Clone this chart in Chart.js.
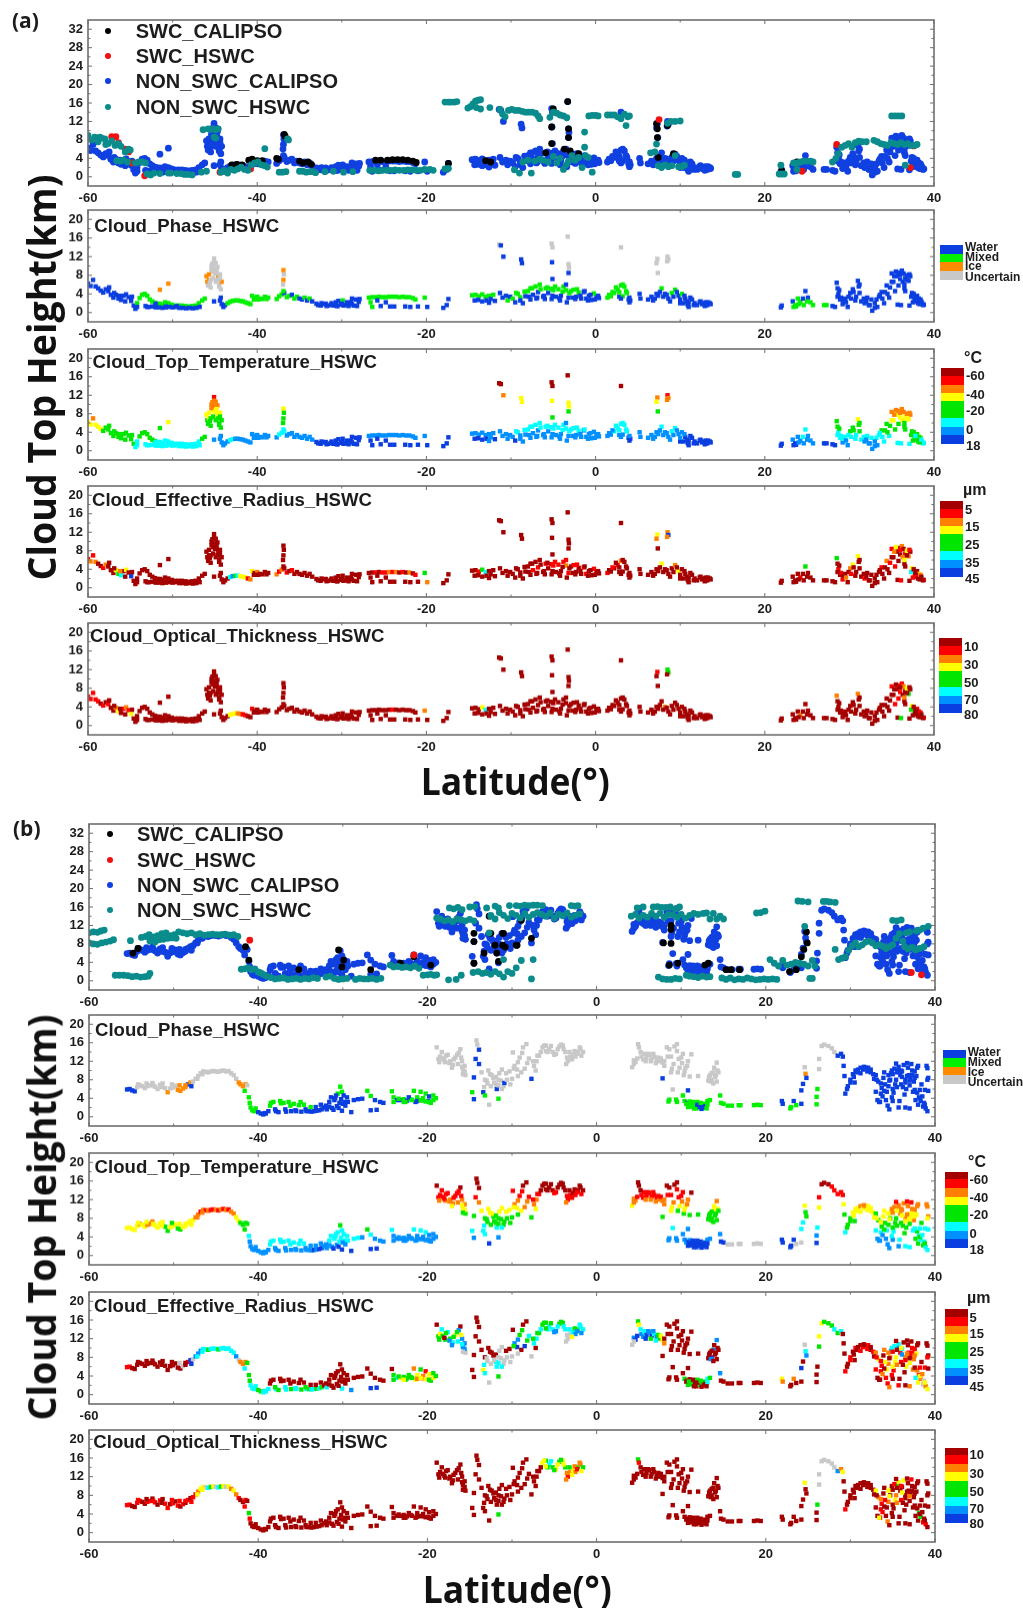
<!DOCTYPE html>
<html><head><meta charset="utf-8">
<style>
html,body{margin:0;padding:0;background:#fff}
#page{position:relative;width:1023px;height:1608px;overflow:hidden;background:#fff;font-family:"Liberation Sans",Arial,sans-serif;color:#1c1c1c}
canvas{position:absolute}
.t{position:absolute;white-space:nowrap;font-weight:bold;line-height:1}
</style>
<script src="https://cdn.jsdelivr.net/npm/chart.js@4/dist/chart.umd.min.js"></script>
</head><body><div id="page"></div>
<script>
const xTickValues=[-60,-40,-20,0,20,40];
const seriesNames=['SWC_CALIPSO','SWC_HSWC','NON_SWC_CALIPSO','NON_SWC_HSWC'];
const seriesColors=['#000000','#f01010','#1040e0','#0a8c8c'];
const panelTitles=['Cloud_Phase_HSWC','Cloud_Top_Temperature_HSWC','Cloud_Effective_Radius_HSWC','Cloud_Optical_Thickness_HSWC'];
const phaseNames=['Water','Mixed','Ice','Uncertain'];
const phaseColors=['#0a3ee0','#00f000','#ff8c00','#c8c8c8'];
const rainbow=['#a50000','#ff0000','#ff8000','#ffff00','#00e600','#00ffff','#0090ff','#0a3ee0','#c8c8c8'];
const tempLabels=['-60','-40','-20','0','18'];
const radiusLabels=['5','15','25','35','45'];
const thickLabels=['10','30','50','70','80'];

/* ---------- Figure (a): HSWC / CALIPSO cloud tops, ten points per row ---------- */
const aLat=[
-60,-59.7,-59.4,-59.1,-58.8,-58.5,-58.2,-57.9,-57.6,-57.3,
-57,-56.7,-56.4,-56.1,-55.8,-55.5,-55.2,-54.9,-54.6,-54.4,
-54.2,-53.9,-53.6,-53.3,-53,-52.7,-52.4,-52.1,-51.8,-51.5,
-51.2,-50.9,-50.5,-50.1,-49.7,-49.3,-48.9,-48.5,-48.1,-47.7,
-47.3,-46.9,-46.5,-53.2,-52.8,-52.4,-52,-51.6,-51.2,-50.8,
-50.4,-50,-49.6,-49.2,-48.8,-48.4,-48,-47.6,-47.2,-46.8,
-51.5,-50.5,-46.2,-46,-45.9,-45.8,-45.7,-45.5,-45.3,-45.1,
-45,-44.9,-44.8,-44.7,-44.6,-44.5,-44.4,-44.3,-44.2,-45.2,
-45.1,-44.7,-44.5,-45.4,-45.6,-44.3,-44.4,-44.2,-44,-43.8,
-43.5,-43.2,-42.9,-42.6,-42.3,-42,-41.7,-41.4,-41.1,-40.8,
-40.6,-40.3,-40,-39.7,-39.4,-39.1,-38.9,-38.7,-40.4,-39.9,
-37.7,-37.4,-37.1,-36.8,-36.5,-36.2,-35.9,-35.6,-35.3,-35,
-36.9,-36.85,-36.9,-36.95,-36.9,-34.7,-34.4,-34.1,-33.8,-33.5,
-32.8,-32.5,-32.2,-31.9,-31.6,-31.3,-31,-30.7,-30.4,-30.1,
-29.8,-29.5,-29.2,-28.9,-28.6,-28.3,-28,-30.5,-29.9,-28.8,
-26.8,-26.4,-26,-25.6,-25.2,-24.8,-24.4,-24,-23.6,-23.2,
-22.8,-22.4,-22,-21.6,-21.3,-20.2,-26.6,-26.4,-25.8,-25.4,
-24.8,-24.3,-23.8,-22.5,-21.9,-21,-19.9,-18,-17.6,-17.4,
-14.6,-14.2,-13.8,-13.4,-13,-12.6,-14.3,-13.9,-13.4,-12.9,
-12.6,-12.4,-12.1,-11.9,-11.3,-11,-11.4,-11.2,-10.9,-10.6,
-10.4,-10.1,-9.8,-9.5,-9.2,-8.9,-8.6,-8.8,-8.7,-8.3,
-8,-7.7,-7.4,-7.1,-6.8,-6.5,-6.2,-5.9,-5.6,-5.3,
-5,-4.7,-4.4,-4.1,-3.8,-3.5,-3.2,-2.9,-2.6,-2.3,
-2,-1.7,-1.4,-1.1,-0.8,-0.5,-0.2,0.1,0.4,-7.7,
-6.9,-6,-5.1,-4.2,-3.4,-2.4,-5.2,-5.1,-5.15,-5.1,
-3.3,-3.2,-3.15,-3.2,1.4,1.8,2.2,2.6,3,3.4,
3.7,3,2.8,3.2,3.9,4,4.1,3,5.2,5.3,
6.2,6.6,7,7.4,7.8,8.2,8.6,9,9.4,9.8,
10.2,10.6,11,11.4,10.4,10.9,7.3,7.2,7.35,8.5,
8.6,8.45,12.3,12.6,12.9,13.2,13.5,13,11.7,10,
21.9,22,23.3,23.6,23.9,24.2,24.5,24.8,25.1,25.4,
23.4,23.7,24,24.6,25,25.7,27,27.3,28,28.3,
28.5,28.6,28.7,28.9,29.2,29.5,29.8,30.1,30.4,30.7,
31,31.1,31.2,31.4,31.8,32.1,32.4,32.7,33,33.2,
33.5,33.8,34.1,34.4,34.7,35,35.2,35.4,35.6,35.8,
36,36.2,36.4,36.6,36.8,37,35.7,36.1,36.6,37.2,
37.4,37.7,38,38.3,38.6,38.8,37.8,38.2,37.1,36.5,
-45.7,-45.5,-45.2,-45,-44.8,-44.6,-44.4,-45.4,-45.1,-44.9,
-9.4,-8.9,-8.4,-7.9,-7.5,-7,-6.6,-6.1,-5.7,-5.2,
-4.8,-4.3,-3.9,-3.5,-3.1,-2.7,-2.2,-1.8,-1.3,-0.9,
-0.6,-0.1,0.3,1.6,2,2.4,2.8,3.2,3.6,4,
6.8,7.2,7.6,8,8.4,8.8,9.2,9.6,10,10.5,
10.8,11.2,11.6,11,12,12.4,12.7,13,13.3,13.6,
28.8,29,29.3,29.6,29.9,30.2,30.5,30.8,31.2,28.6,
31.7,32,32.3,32.6,33,33.3,33.6,33.9,34.2,34.5,
34.8,35,35.3,35.5,35.8,36,36.3,36.5,36.8,37.1,
37.3,37.6,37.9,38.1,38.4,38.7,37.5,37.8,38.3,38.5,
-57.5,-56.9,-56.2,-55.6,-54.8,-54.2,-53,-52,-50.8,-49.5,
-32.4,-31.8,-31.2,-30.6,-30,-29.4,-28.8,-28.2,-33,-27.9];
const aTop=[
6.2,5.7,7,5.6,5.2,4.7,4.3,5,4.6,3.8,
3.2,3.8,3,2.7,3.6,3.9,3.3,2.5,1.5,0.8,
2,3.1,3.8,4,3.6,2.8,2.4,2.1,1.9,1.9,
1.7,2.2,2,1.7,1.5,1.5,1.5,1.4,1.3,1.4,
1.5,2,2.6,1.4,1.2,1.3,1.1,1.1,1,1.3,
1.2,1.1,1.2,1,1,0.9,1,0.9,1,1.2,
4.9,6.2,3,7.8,6.6,5.8,7,5.4,10.5,11.6,
9.6,10.6,8.4,9.8,7.6,6,8.2,5,6.6,8.8,
2.4,7,5.6,9.2,6.4,3.2,2.6,1.8,1.2,1.6,
2,2.3,2.5,2.6,2.6,2.5,2.4,2.2,2,1.8,
3.6,3.2,3.4,3,2.9,3.4,2.9,3.2,2.8,2.8,
2.9,3.5,3.9,4.2,3.3,3.6,3.8,3,3.4,3,
9.1,8.2,7,6,4.6,2.8,3.2,2.6,3,2.4,
1.6,1.5,1.8,1.9,1.5,1.7,1.5,2.2,2.5,1.7,
1.5,1.6,1.4,2.2,1.5,2.8,2.3,1.4,2.6,3,
3.2,3.3,3.3,3.4,3.3,3.3,3.4,3.4,3.4,3.3,
3.4,3.3,3.3,3.1,2.8,3.2,2.2,1.2,2.6,1.4,
2.2,1.3,1.3,1.3,1.2,1.3,1.2,1,1.6,2.9,
3.7,3.8,3.5,3.9,3.4,3.6,2.6,2.7,2.4,2.6,
2.1,2.9,3.8,2.5,4.2,3.2,14.6,14.4,12,3.6,
2.6,3.4,3,2.2,4,3.3,2,11.4,10.6,3.5,
4.6,5.2,3.8,5.6,4.4,5,3.4,5.2,4.2,5.1,
4.8,3.4,5,3.6,5.6,4.8,3.2,4.6,4.9,3.4,
4.3,3,4.4,3,3.6,2.7,4.1,3.2,3.1,2.8,
3.2,2.9,3.6,2.6,2.2,2.9,14.8,14,10.8,7.2,
16.3,10.4,9.6,8.5,3.2,3.5,4.2,4.9,5.8,5.6,
4.2,14,3.4,3.5,2.8,2.2,2.6,3,4,3,
2.8,3.4,3,3.6,5.2,4,3,4.2,4.9,3.6,
4,3,2.2,2.8,2,1.6,11.5,10.6,8.5,12,
11.4,11,2.2,1.8,1.4,1.6,2,2.2,2,2,
1.1,1.5,2.4,1.6,3,2.2,3,4.6,3.2,2.2,
1.2,1.3,1.8,1.6,2.4,1.6,1.6,1.6,1.4,1.2,
6.4,5.2,4,2.8,1.8,3,1.2,4.2,5,2.6,
6.8,5.6,4.2,2.4,2,3.2,1.6,0.4,1,2.8,
3.4,4.4,2,5.8,3.2,8.4,6.6,4.6,7.8,8.6,
7.2,9,8.4,7.4,8,6.8,1.7,1.6,4.6,7.8,
4.2,3,3.6,2.4,2,1.7,2.4,3,1.5,5.2,
8.2,7,7.4,8.4,9,7,7.4,10,10.8,6.6,
4.2,2.6,4.5,3.4,5.2,3,6,3.6,5.4,2.9,
5.6,3.1,4.5,6,4.2,3.2,5,3.6,4.6,2.6,
3.8,2.8,3.6,3.8,4.4,5.4,4.4,6,4.6,3.2,
2.6,4,4.4,3.4,3.8,2.4,3.4,4.4,2.8,3.6,
2.4,3.2,1.6,1.2,1.6,2.4,2,1.6,2.2,1.8,
4.8,3.2,2.6,2.2,3.4,3,4.4,3.4,6,3.4,
3,2.4,1.6,2.8,2,1.2,3.8,3,4.4,4,
5.4,6.6,7.8,8.8,5.8,8.2,6.6,6,7,8.2,
3.4,4,2.8,2,2.8,1.6,2.2,3.2,1.8,2.4,
5.4,4.2,3.6,2.4,3.4,1.2,1.2,1.9,1.1,1.4,
2,1.4,2,1.4,1.9,2.2,1.8,1.4,1.9,2.9];
const aPhase=`0000000000 0000000000 1111111111 1111111111 1110000000 0000000000 2212232333 3333233323 0333300000 1111111111
1111111111 1110110110 2323101010 0000000000 0000000010 1111111111 1111111100 0000000000 1111110000 0010003000
1010110000 1101010101 1010110110 1000001000 0000003300 3330111111 1301000000 0000100110 1000003333 3300000000
0001110001 1111111100 0000000000 0000000000 0000000000 0000000000 0000000000
2333333333 1010101010 1010101000 0001111110 0000000000 0000000000 0000000000 0000000000 0000000000 0000000000 0000000000 0000000000`;
const aTemp=`3323334444 4444444445 5444444455 5555555555 5545555555 5555555555 4343443421 2232343443 6342466666 6556666666
6666666666 6555666666 3444566666 7777777777 7777777777 6666666666 6666667777 7777777777 6666667777 6667660026
6667566336 5565656565 5656556556 5666666666 6666660034 0334665555 5066777666 6666566556 6777772341 2277777777
7767665566 7766667777 4455656445 3445656665 5454523432 3223235542 4444554454
3443344224 5656565656 5656565656 6666655556 6666666666 7777777777 4556554545 5665665544 4322423432 4444454545 4444455555 7777777777`;
const aRadius=`1212001200 0345030700 0000000000 0000000000 0000000000 0000000000 0000000000 0000000000 0000000000 0564533312
3020000000 2120101000 0000000000 0000000000 0000000000 0010112120 1020140000 0000002000 0014500000 0000000000
0000000000 0010100101 1010121010 0011001000 0000000000 0000100120 0000000000 0000300023 0000003202 7200000000
0000010400 0000000000 4010100230 3000100000 0102010100 0201320100 3201510300
0000000000 0000000000 1001001000 0000100000 0000000000 0000000000 0102010000 0000000000 1023012301 5010201000 0020000000 0000000000`;
const aThick=`1111101010 0230121300 0000000000 0000000000 0000000000 0000000000 0000000000 0000000000 0000000000 0333221100
1000000000 0000000000 0000000000 0000000000 0000000000 0000000100 0000020000 0000000000 0003500000 0000000000
0000000000 0000000000 0000000000 0000000000 0000000000 0000000000 0000000000 0000020000 0000001004 4000000000
0000020000 0000000000 2000000000 2000000000 0000010101 1120340400 3410510000
0000000000 0000000000 0000000000 0000000000 0000000000 0000000000 0000000000 0000000000 0000100200 4000100000 0000000000 0000000000`;
const aBlackLat=[-36.8,-36.7,-37.7,-37.5,-35,-34.6,-34,-33.6,-41,-40.6,-40,-39.4,-43,-42.4,-41.8,-26,-25.4,-24.6,-24,-23.4,-22.8,-22.2,-21.6,-21.2,-17.4,-13,-12.4,-5.9,-5.2,-5.2,-5,-3.3,-3.2,-3.2,-3.7,7.2,7.3,7.3,8.5,7.4,9.2,22,23.8,-3,-2];
const aBlackTop=[9.2,8.8,4,3.8,3.4,3,3.2,2.7,3.6,3.8,3.5,3.5,2.6,2.7,2.6,3.6,3.6,3.6,3.7,3.7,3.7,3.6,3.4,3.1,2.9,3.5,3.2,5.2,7.2,10.8,14.7,16.3,8.5,10.4,6,11.5,10.4,8.5,11.1,4.2,5,1.3,3.2,5.6,5];
const aRedLat=[-57.2,-56.7,-55.6,-55.2,-54.8,-53.3,-44.4,-40.8,7.5,24.4,28.5,37.6,37.2,-56.4];
const aRedTop=[8.7,8.7,6,5.4,3,0.2,1,1.7,12.4,1.2,7,6.7,2,7.4];
const aTealLat=[
-60,-59.6,-59.2,-58.8,-58.4,-58,-57.6,-57.2,-56.8,-56.4,
-58.6,-57.9,-56.1,-55.6,-55.2,-55,-56.6,-56.2,-55.8,-55.3,
-54.4,-54,-53.6,-53.2,-53,-52.6,-52.2,-51.5,-50.5,-50.2,
-49.5,-49,-48.6,-48.2,-47.7,-46.6,-46,-45.5,-45.2,-44.9,
-46.4,-45.8,-44.6,-44.9,-45.1,-44.3,-43.9,-43.5,-43.1,-42.7,
-42.3,-41.9,-41.5,-41.1,-40.7,-40.3,-39.9,-39.5,-39.1,-38.8,
-39.1,-37.4,-37,-36.6,-36.4,-36.3,-35,-34.6,-34.2,-33.8,
-33.4,-33.1,-32,-31,-29.8,-28.7,
-26.7,-26.2,-25.7,-25.2,-24.7,-24.2,-23.7,-23.2,-22.7,-22.2,
-21.7,-21.2,-20.7,-20.2,-19.6,-19.2,-17.8,-17.4,-17.8,-17.4,
-17.1,-16.7,-16.4,-15.1,-14.8,-14.5,-14.2,-13.9,-13.6,-14.1,
-13.6,-12.5,-11.3,-11,-10.7,-10.3,-9.9,-9.5,-9.1,-8.7,
-8.3,-7.9,-7.5,-7.1,-6.8,-6.6,-5.4,-5,-4.6,-4.2,
-3.8,-3.4,-0.8,-0.4,0,0.3,1.4,1.8,2.2,2.6,
3,3.4,3.8,4,3.6,
-9.6,-9,-8.6,-8,-7.6,-7.2,-6.6,-6.2,-5.6,-5,
-4.6,-4.2,-3.8,-3.5,-3.2,-2.8,-2.4,-2,-1.6,-1.2,
-1.3,-1.3,-0.9,-0.4,6.5,7,7.4,7.8,8.2,8.6,
7.2,9,9.4,9.8,10.2,10.5,8.5,8.9,9.4,10,
16.5,16.8,21.7,22,22.3,21.9,23.4,23.8,24.2,24.6,
25,25.4,25.7,23.8,28,28.4,28.7,29.1,29.5,29.9,
30.3,30.7,31.1,31.5,32,32.9,33.3,33.7,34.1,34.5,
34.9,35.3,35.7,36.1,36.5,36.9,37.3,37.7,38,35,
35.4,35.8,36.2,36.6];
const aTealTop=[
9,8,8.6,7.6,8.4,8.2,7.2,7.8,6.8,7.2,
8.6,7,6.6,5.4,6,5.8,3.5,3.4,3.6,3.2,
3,3.2,3.2,3,0.6,0.4,0.8,0.7,0.8,0.8,
0.7,0.7,0.5,0.5,0.4,1,1.2,10.3,10.4,10.2,
10.2,10.4,10.4,8.4,8.6,1,1.4,0.8,1.6,1.4,
1.7,2.1,1.6,1.4,2.6,3,3.2,2.6,2.4,2.1,
6.1,1,1,1.1,8.2,8,1.2,1.2,1,1.1,
1.1,0.9,1.1,1.2,1,1.1,
1.4,1.4,1.3,1.4,1.4,1.4,1.5,1.4,1.4,1.5,
1.5,1.4,1.4,1.6,1.6,1.4,1.7,1.8,16.2,16.2,
16.2,16.2,16.3,14.9,15.2,15.8,16.4,16.6,16.7,15,
14.7,15,14.6,13.6,13,14.4,14.6,14.4,14.4,14.2,
14,14,14,13.8,13.2,12.6,12.9,14,13.8,13.4,
13.2,12.8,13.2,13.3,13.3,13.2,13.4,13.4,13.4,13,
12.6,13.6,13,13.2,11.1,
1.5,0.8,3.2,3.6,0.8,3.4,3.8,3.6,3.2,4.4,
3,4,1.6,2.6,3.4,4.6,3.6,4.2,2,4.6,
9.7,6.4,4.2,1,5.2,5.4,2.4,2,2.6,2.2,
7.1,2.4,4.6,2.2,2.2,2.5,11.6,12,12,12.1,
0.5,0.5,0.6,0.6,0.6,2.5,3,3,3.2,3.4,
3.4,3.4,3.2,1.6,3.2,4,5,6.4,6.8,7.2,
6.4,7.4,7.7,7.6,7.6,7.9,7.6,7.2,7,6.8,
7.4,7.2,7,7.4,7,7.2,6.8,6.8,7,13.2,
13.2,13.2,13.2,2.5];

/* ---------- Figure (b) ---------- */
const bLat=[
-55.5,-55.2,-54.9,-54.6,-54.3,-54,-53.7,-53.4,-53.1,-52.8,
-52.5,-52.2,-51.9,-51.6,-51.3,-51,-50.7,-50.4,-50.1,-49.8,
-49.5,-49.2,-48.9,-48.6,-48.3,-48,-47.7,-47.4,-47.1,-46.8,
-46.5,-46.2,-45.9,-45.6,-45.3,-45,-44.7,-44.4,-44.1,-43.8,
-43.5,-43.2,-42.9,-42.6,-42.3,-42.1,-41.8,-41.5,-41.3,-41.6,
-41.1,-41,-40.9,-40.7,-40.5,-40.3,-40,-39.7,-39.4,-39.1,
-38.8,-38.5,-38.2,-37.9,-37.6,-37.3,-37,-36.7,-36.4,-36.1,
-35.8,-35.5,-35.2,-34.9,-34.6,-34.3,-34,-33.7,-33.4,-33.1,
-32.8,-32.5,-32.2,-31.9,-31.6,-31.3,-31,-30.7,-30.4,-30.1,
-31.6,-30.9,-30.6,-30.3,-30.1,-29.8,-29.5,-29.4,-29,-29.9,
-28.7,-28.2,-27.7,-27.1,-26.7,-26.7,-26,-26.2,-25.6,-25.2,
-24.2,-24,-23.6,-23.2,-22.8,-22.4,-22,-21.6,-21.2,-20.8,
-20.5,-20.2,-19.9,-19.6,-19.3,-19,-21.4,-20.6,-19.8,-22.6,
-18.9,-18.7,-18.5,-18.2,-17.9,-17.6,-17.3,-17,-16.7,-16.4,
-16.1,-15.9,-15.8,-15.6,-15.9,-15.5,-16.3,-18,-14.2,-14.1,
-13.9,-14.3,-13.9,-14.5,-14.7,-14.5,-13.4,-13.2,-11.8,-11.6,
-12.7,-13.6,-13.2,-12.9,-12.5,-12.2,-11.9,-11.6,-11.3,-11,
-13.3,-12.8,-12.4,-11.9,-11.5,-11.2,-10.9,-10.6,-10.3,-10,
-9.9,-9.7,-9.4,-9.1,-8.7,-8.3,-8.9,-9.3,-8.5,-8.2,
-7.7,-7.4,-7.1,-6.8,-6.4,-6,-5.6,-5.2,-4.8,-4.4,
-4,-3.7,-3.4,-3.1,-2.8,-2.5,-2.2,-1.9,-1.6,-7.2,
4.2,4.4,4.6,4.9,5,5.3,5.6,5.9,6.2,6.5,
6.8,7.1,7.4,7.8,8,8.3,8.6,8.9,9.2,9.5,
9.7,10,10.2,10.5,10.7,11,11.2,8.8,9.6,10.3,
7.8,9,12,13.2,13.4,13.6,13.8,14,14.2,14.3,
8.5,8.6,9.4,10.2,10.4,10.7,10.8,11,11.3,11.6,
11.9,12.2,12.5,12.8,13.1,13.4,10.8,11.8,12.2,12.7,
14.6,14.7,15,15.5,16,16.8,17,18.6,19,19.4,
21.9,22,23,22.9,23.3,23.6,24.2,24.2,24.4,24.6,
24.7,24.8,26,26,26.1,26.3,26.3,26.6,26.9,27.4,
27.8,28.1,28.5,28.9,29.1,29.2,29.3,29.4,29.7,30,
30.3,30.6,30.9,31.2,31.5,31.8,32.1,32.4,32.7,30.5,
33,33.3,33.6,33.9,34.2,34.5,34.8,35.1,35.4,35.7,
36,36.3,36.6,36.9,37.2,37.5,37.8,38.1,33.2,33.8,
34.1,34.4,34.7,35,35.3,35.6,35.9,36.2,36.5,36.8,
37.1,37.4,37.7,38,38.3,38.6,38.9,39.1,39.2,38.4,
39.1,39,38.8,37,36.5,35.7,34.6,33.5,34.9,35.4,
36.1,36.7,37.3,37.9,38.2,38.7,33,39.2,35,37.6,
-39.2,-38.6,-38,-37.4,-36.8,-36.2,-35.6,-35,-34.4,-33.8,
-33.2,-32.6,-32,-31.4,-30.8,-30.2,-31.1,-30.5,-29.7,-30,
-54.2,-53.2,-52.4,-51.4,-50.2,-49.3,-48.6,-47.9,-47.2,-46.6,
-18.3,-17.8,-17.4,-16.9,-16.5,-16,-15.6,-18.6,-17.1,-15.8,
-13,-12.6,-12.1,-11.6,-11.2,-10.7,-10.2,-9.8,-9.3,-8.8,
-8,-7.5,-7,-6.6,-6.2,-5.8,-5.4,-5,-4.6,-4.2,
-3.9,-3.5,-3.2,-2.9,-2.6,-2.3,-2,-1.8,-6,-3.6,
4.4,4.8,5.2,5.5,5.8,6.1,6.4,6.7,7,7.3,
7.6,8,8.4,8.8,9.1,9.5,9.8,10.1,10.4,10.8,
13.3,13.6,13.9,14.1,14.4,13.5,13.8,14.2,9.5,10.6,
11.1,11.5,11.9,12.3,12.7,13.1,10.9,11.4,12.4,13,
29.6,30,30.4,30.8,31.2,31.6,32,32.4,32.8,33.1,
33.4,33.7,34,34.3,34.6,34.9,35.2,35.5,35.8,36.1,
36.4,36.7,37,37.3,37.6,37.9,38.2,38.5,38.8,39.1,
33.6,34,34.5,35,35.5,36,36.5,37,37.6,38,
-24,-23.4,-22.8,-22.2,-21.8,-21.2,-20.8,-20.2,-19.8,-19.3];
const bTop=[
5.9,6,5.7,5.5,6.4,6.8,6.6,6.2,6.6,6.8,
7.3,6.5,6,6.9,7.2,6.2,5.3,6.1,6.3,6.7,
5.8,5.6,6.1,6.4,7,7.4,7.6,8.2,8.8,9.4,
9.8,9.7,9.6,9.8,9.9,9.8,9.7,9.9,10,9.8,
9.9,9.4,9,8.2,7.4,7,6.6,7,6.8,5.6,
4.2,3,2,1.4,1.2,1.8,1,0.7,0.5,0.7,
1.2,3,3.2,1.2,1,2.9,3,1.1,3.2,1.2,
2.8,1.2,2.5,1.1,2.6,1.2,1.2,1.1,1.2,1.3,
1.4,1.6,2,1.6,3.2,1.9,3.6,2.3,3,1.3,
2.2,4,5,6.5,5.4,3.2,4.2,3.2,1,4.6,
3.6,3.8,3.9,5.6,4.5,1.4,1.5,3.6,3.2,3,
5.5,4.2,3.6,3.6,3.8,3.5,3.8,5.6,4.2,5.4,
4,5,3.4,3,3.6,4,3.2,3.5,4.4,3.2,
15,12.5,13,12.6,11.8,13.4,12,11.2,12.8,11.4,
14.6,12,10.2,11,10.8,9,13.8,12.2,16.5,15.6,
14.5,12.5,11.4,8.5,5.3,3.8,5.3,4.6,6,3.9,
2.6,9.6,8,7.2,6.6,8.4,8.6,6.8,7.8,6.6,
6.4,10,9,7,9.4,10.2,7.3,8,9.8,8.2,
13.9,11,10.2,12.8,15,15.7,9.6,8.8,10.4,11.6,
8.2,11,12,13.2,15,15.4,14.6,14,13.6,15.2,
15.4,14,12,13,13.4,13,14,14.6,14,10,
10.7,12.2,11.8,15.7,15,13,13.6,12.8,13.4,12.6,
13,12.4,12,11.7,11,15,14.6,10.4,15.2,15.7,
12.5,12.8,13.6,10.6,11,8.7,13.5,13,9.6,9,
8.3,5.9,8.8,7.8,9,8,9.6,8.6,11.7,10,
3.3,3.7,3.7,4.6,3.4,3,2.1,3.3,2.7,2.6,
3.2,2.5,2.2,2.8,3.4,3.6,5.7,1.8,2.1,2.3,
4.6,3,2.8,2.4,2.4,2.5,2.5,2.5,2.6,2.5,
3.4,2.8,2.1,1.8,3.4,2.5,2.8,5.7,7.1,10.7,
9.3,8.4,2.7,4.3,6,10.3,12.5,15.3,15.6,15.3,
14.8,14,13.2,13.6,13,11,8.8,5,6.6,8,
9.2,10,10.2,10.6,10.2,10.6,10.6,9.6,9.2,7.4,
9,7.6,5,8.4,3.6,6.6,9.4,5.2,8,10.8,
7,11.2,6,9,11.4,7.6,8.8,4.2,3.6,4.4,
7,2.4,8,3.4,7,10,9,6.4,8,10.6,
8.2,5.4,3.6,2.6,3.4,2.2,1.8,1.2,8.4,7,
10.5,11,5.8,1.8,2,2,1.6,3.2,10,11.5,
9.8,11.6,10,5.2,4,3,5.4,5.6,6,9.8,
0.8,2.4,1.6,3.4,1.6,2.4,1.4,3.2,1.6,2.1,
2.1,2.6,2.4,4.2,4.6,3.8,1.5,1.9,2.4,2.8,
7,7.2,6.8,6.4,7,6.8,6.8,6.6,8.2,9.2,
14,13.2,11.6,12.4,13.4,12.8,9.8,11.8,10.6,9.2,
7.8,9.2,7.4,8,6,9.4,7,10.4,11.8,13.8,
12.6,12,13.2,14,15.4,14,15.3,13.4,14.6,15.6,
14.6,12.8,14,12.4,14.2,13.6,15,13.2,14.2,11.4,
11.4,12.6,14,12.4,12,13.6,12,13.6,11.6,12.8,
12.6,12,13,9.6,11.4,14.2,10.6,11.6,9.8,12,
8.6,9.4,10.6,9,9.6,7.6,7.2,7.6,3.2,2.8,
2.2,1.8,2.6,3,2,2.6,2.8,3.2,1.7,1.8,
6,7.4,8.6,9.6,9.4,10.8,9.8,10.2,8.2,8,
3.2,6.2,9.6,5.4,7.8,4.2,10.4,6.4,3.4,8.6,
4.8,8.8,6.8,9,5.8,10.6,5.8,4.4,2.6,8,
7.2,5.6,9,9.2,9.6,10,7.4,7.8,8.4,11,
3.2,3.9,3.2,4.2,3.6,3.4,3.6,3.3,3.2,4.6];
const bPhase=`0000333333 3333332333 2222023333 3333333333 3333222231 1111110000 0110011010 1010100000 0000000000 0011100000
0001100000 1100101111 1101110101 3333333333 3333333333 0000100101 3333333333 3333330333 3333333333 0333333333
3333333333 3333333333 3333333333 3333333333 0333333333 1111101111 1001110100 1111111111 0011010003 2011133333
3300000000 0000000000 0000000000 0000000000 0000000000 0000000000 0000000000 0000000000
0101010101 0000000000 3333322033 3333333333 3333333333 3333333333 3333333333 3333333333 3333333333 3333333311 1101011101 0000000000 0000000000 0000000000 0000000000 1110101111`;
const bTemp=`3333323322 2333344333 4433333221 2121121212 1223344444 5666666666 6556655656 5656566676 7766565657 6554555575
5564577666 5666666565 6566666666 0111212212 0232341100 0124565556 7344444444 5334334434 1231003422 4221000010
0011010003 3220011111 1122200300 1113240144 4544443423 6666677677 7777666777 6778888888 7777788553 4476531000
1111134544 3332323334 4453643542 4243123566 4646422422 3544545524 2255566621 2124455542
6565656566 6665557766 3333433322 1121113234 4344534321 1110000100 0101010102 2101212121 1213213232 4434444466 7777777777 4433323333 6435352453 4243525543 3432323332 6666666666`;
const bRadius=`1100000000 0000000000 0080178666 5545554555 5556822245 4455554455 5005400504 0504054554 5405000005 0000000060
0000077000 0453444234 2134343234 0434454535 0666586000 0000003554 8008800588 5005888808 0674000874 8554445564
4588564550 8674365767 5643200000 0000000000 0000076060 0000404040 4004540040 6000000000 3200200708 5600043344
4545000101 0100101010 2310126135 1031023102 3120361020 1253282300 0012012050 5012381031
5040505040 0000000000 0000080755 5464436468 8088508464 5445454654 5853465648 8756764654 3000000000 0000060000 4004054000 0100101001 0123015206 0231001231 1021031020 4434423344`;
const bThick=`1100110011 0101011010 1010101123 3854385438 3232100101 4100000000 0000000000 0000000000 0000000000 0000000000
0000000000 0000000000 0000000000 0000000000 0000000000 0000000004 0000000000 0000000000 0000000000 0000345434
3412324240 0004100000 0000000000 0000000000 0000000000 0000000000 0000000000 0000000000 0000000003 0000488888
8862300100 0000000000 3210023023 1300100401 1200340000 0000411000 0000000000 0000000000
0000000000 0000000000 1010111133 0000000000 0000000000 0000345434 3243212332 0000000000 0000000000 0000000000 0000000000 0000000000 3100301203 0000000000 2030010200 0000000000`;
const bBlackLat=[-54.8,-54.2,-41.5,-41.1,-35.2,-30.5,-29.9,-30.1,-26.7,-23.2,-21.6,-19.6,-12.7,-14.5,-14.5,-14.5,-13.3,-12.5,-12,-11.8,-11,-10.8,-9.4,-11.6,-11.1,-11.1,-9.5,-7.7,-8.9,8.8,8.8,7.9,8.8,8.6,9.6,13.2,12.8,15.3,15.9,16.9,22.8,23.6,24.2,24.5,24.9,24.8];
const bBlackTop=[6,7,7.4,4.5,2.4,6.7,4.5,3,2.4,3.8,5.2,3.4,14,10.3,8.5,3.8,6,10.3,7.7,6,10.3,7.3,7.7,4.2,10.3,7.7,7.7,9.2,13.1,12,11.1,8.2,8.1,3.4,3.8,3.8,3.4,2.4,2.4,2.4,2,2.4,5.2,6.8,8.2,10.6];
const bRedLat=[-41,-21.6,37.2,38.4];
const bRedTop=[8.8,5.6,1.8,1.3];
const bTealLat=[
-60,-59.5,-59,-58.6,-58.2,-60,-59.5,-59,-58.5,-58,-57.5,-57.1,
-56.9,-56.4,-55.9,-55.4,-54.9,-54.4,-53.9,-53.4,-53,-52.8,-55.1,
-53.8,-53.3,-52.9,-52.4,-51.9,-51.4,-50.9,-50.4,-49.9,-49.4,
-48.9,-48.4,-47.9,-47.4,-46.9,-46.4,-45.9,-45.4,-44.9,-44.4,
-43.9,-43.4,-42.9,-42.4,-52.8,-52.2,-51.7,-51.2,-50.7,-50.2,-49.7,
-42,-41.6,-41.2,-40.8,-40.4,-40,-39.7,-39.4,-39,-38.5,
-38,-37.5,-37,-36.5,-36,-35.5,-35,-34.5,-34,-33.5,
-33,-32,-31.5,-31,-30.5,-30,-29.5,-28.5,-28,-27.5,
-27,-26.5,-26,-25.5,-24.4,-24,-23.5,-23,-22.5,-22,
-21.5,-21,-20.5,-20,-19.6,-19.2,-18.9,-17.5,-16.6,-16,
-18.9,-18.5,-18,-17.5,-17,-16.5,-16,-15.5,-15,-14.5,
-17.4,-16.9,-16.4,-15.9,-15,-14.4,-13,-12.5,-12,-11.6,
-10.3,-9.5,-9,-8.5,-8,-7.5,-7,-6.4,-3,-2.6,-2.2,
-12.5,-12,-11.5,-11,-10.5,-10,-9.5,-9,-8.5,-8,-7.5,-7,
-6.5,-6,-5.5,-5,-4.5,-4,-3.5,-3,-2.5,-2,
-14.6,-14,-13.5,-13,-12.5,-12,-11.5,-11,-10.5,-10,-9.5,-8.9,-7.7,-7.5,-12.7,-11,
4.1,4.6,5,5.5,6,6.5,7,7.5,8,8.5,9,9.5,10,10.5,11,11.5,12,12.6,
4.8,5.5,6.7,7.2,7.7,8.2,8.7,9.3,9.8,13,13.4,13.8,14.2,14.6,15,
7.3,7.8,8.3,8.8,9.3,9.8,10.6,11,11.5,12,12.5,13,13.4,
14.8,15.3,15.8,16.3,16.8,17.3,17.8,18.3,18.8,19.3,19.8,20.3,20.8,21.3,18.9,19.4,19.9,
20.5,21,21.5,22,22.5,23,23.5,24,24.5,25,25.5,25.8,23.8,24.3,25,24.6,25.2,25.5,
26.8,27.2,27.6,28.2,28.2,28.6,29,29.4,29.8,30.2,30.6,31,31.4,31.8,32.2,32.6,33,33.4,33.8,34.2,
34.6,35,35.4,35.8,36.2,36.6,37,37.4,37.8,38.2,38.6,39.2,35,35.5,36,36.4,36.8,37.2,37.7,38.2,38.7];
const bTealTop=[
10.4,10.6,10.5,10.8,11,8.2,8,7.9,8.2,8.4,8.6,8.9,
1.2,1.2,1.2,1.1,0.9,1,0.8,0.9,1,1.6,8.7,
9.4,9.6,10,9.5,9.8,10.2,10.4,9.8,10,10.6,
10.4,10.2,10.4,10,10.2,9.9,10,10.1,10,10,
10.1,9.9,10,9.6,8.6,8.4,8.9,9,9.2,9.3,9.2,
2.5,2.6,2.8,2.4,2.6,1.9,1.7,1.4,1,0.7,
0.4,0.5,0.6,0.3,0.4,0.5,0.3,0.5,0.4,0.7,
0.5,0.8,1,0.5,0.3,0.4,0.5,0.3,0.5,0.4,
0.4,0.5,0.3,0.5,3.4,3,3.1,2.9,3,2.8,
3.2,2.7,1.2,1.3,1.4,1.2,1.3,0.2,0.3,1.2,
13.6,13.4,13,13.2,12.8,13.4,13.2,13,13.3,13,
15.8,15.6,15.9,15.4,16,16.1,15.8,14.2,16.2,15.8,
16.3,16.3,16.2,16.4,16.3,16.4,16.4,16.3,16.3,16.2,16.3,
14,13.4,14.8,14.2,13.5,14.6,14.2,13.6,14.6,13.8,14.4,14.8,
14.4,14,14.7,13.6,14.4,14.1,14.7,13.8,14.2,14.5,
1.8,2,1.6,1.8,1.4,2,1.5,0.8,2,1.6,2.8,4.4,0.4,4.6,10.4,4.6,
14,14.4,13.6,14.2,13.8,14.6,14,14.6,13.8,14.4,14.3,13.8,14.4,13.6,14.2,14.6,14.4,14.6,
15.8,16,16,16.1,15.9,15.9,16,15.6,16,14.7,13.4,14.6,13.4,14,13.4,
0.8,0.4,0.3,0.3,0.5,0.4,1.2,1,0.9,0.7,1,0.8,0.9,
0.6,0.3,0.6,0.2,0.4,0.3,0.6,0.4,0.2,0.3,0.4,0.3,0.4,0.3,14.7,14.8,15.1,
4.6,3.8,3.2,4.4,3.4,3.6,4,3.8,3.6,3.2,4.4,3.2,17.3,17.2,17.1,11.8,0.5,0.5,
17.2,17.2,17.1,17,6.8,4.6,4.9,5.2,6.6,7.6,8.2,7.4,7.8,8.4,8.6,8.2,7.6,7.8,7.5,7,
7.4,7.8,9.2,10.2,8.6,10.4,10.6,7.2,10.8,11,11.4,11.8,13.1,13,13.2,7.4,6.9,7.2,6.7,7,7.4];

/* ---------- helpers (layout only) ---------- */
const page=document.getElementById('page');
const digits=s=>s.replace(/\s/g,'').split('').map(Number);
const xy=(lat,top)=>lat.map((x,i)=>({x,y:top[i]}));
function text(str,x,yc,opts={}){
  const d=document.createElement('div');d.className='t';d.textContent=str;
  d.style.left=x+'px';d.style.top=yc+'px';d.style.transform='translateY(-50%)';
  d.style.fontSize=(opts.size||13)+'px';
  if(opts.family)d.style.fontFamily=opts.family;
  page.appendChild(d);return d;
}
function fitted(str,cx,cy,size,targetLen,rot){
  const d=document.createElement('div');d.className='t';d.textContent=str;
  d.style.fontSize=size+'px';d.style.fontFamily='"Open Sans","Noto Sans",sans-serif';d.style.color='#111';
  page.appendChild(d);
  const w=d.getBoundingClientRect().width,h=d.getBoundingClientRect().height;
  d.style.left=(cx-w/2)+'px';d.style.top=(cy-h/2)+'px';
  d.style.transform=`rotate(${rot}deg) scaleX(${targetLen/w})`;
  return d;
}
const frame={id:'frame',afterDraw(c){
  const {ctx,chartArea:a,scales:{x,y}}=c;ctx.save();ctx.strokeStyle='#6e6e6e';ctx.lineWidth=1.6;
  ctx.strokeRect(a.left,a.top,a.width,a.height);ctx.lineWidth=1;
  for(let v=x.min;v<=x.max;v+=10){const p=x.getPixelForValue(v),l=v%20===0?4:2.5;
    ctx.beginPath();ctx.moveTo(p,a.top);ctx.lineTo(p,a.top+l);ctx.moveTo(p,a.bottom);ctx.lineTo(p,a.bottom-l);ctx.stroke();}
  for(let v=y.min+2;v<y.max;v+=2){const p=y.getPixelForValue(v),l=v%4===0?4:2.5;
    ctx.beginPath();ctx.moveTo(a.left,p);ctx.lineTo(a.left+l,p);ctx.moveTo(a.right,p);ctx.lineTo(a.right-l,p);ctx.stroke();}
  ctx.restore();
}};
function panel(L,R,T,B,yMax,datasets){
  const padL=50,padR=26,padT=5,xH=24;
  const cv=document.createElement('canvas');
  const W=R-L+padL+padR,H=B-T+padT+xH;
  cv.width=W;cv.height=H;cv.style.left=(L-padL)+'px';cv.style.top=(T-padT)+'px';cv.style.width=W+'px';cv.style.height=H+'px';
  page.appendChild(cv);
  new Chart(cv,{type:'scatter',data:{datasets},plugins:[frame],options:{
    responsive:false,animation:false,devicePixelRatio:window.devicePixelRatio||1,
    layout:{padding:{top:padT,right:padR,left:0,bottom:0}},
    plugins:{legend:{display:false},tooltip:{enabled:false}},
    scales:{
      x:{type:'linear',min:-60,max:40,grid:{display:false,drawTicks:false},border:{display:false},
        afterFit(s){s.height=xH;s.paddingLeft=0;s.paddingRight=0;},
        afterBuildTicks(s){s.ticks=xTickValues.map(v=>({value:v}));},
        ticks:{padding:5,maxRotation:0,autoSkip:false,color:'#1c1c1c',font:{family:'"Liberation Sans"',weight:'bold',size:13}}},
      y:{type:'linear',min:-2,max:yMax,grid:{display:false,drawTicks:false},border:{display:false},
        afterFit(s){s.width=padL;s.paddingTop=0;s.paddingBottom=0;},
        ticks:{stepSize:2,padding:5,autoSkip:false,color:'#1c1c1c',font:{family:'"Liberation Sans"',weight:'bold',size:13},
          callback:v=>(v>=0&&v%4===0)?String(v):''}}
    }}});
}
function classPanel(L,R,T,B,lat,top,classes,colors){
  const cs=digits(classes).map(k=>colors[k]||colors[0]);
  panel(L,R,T,B,22,[{data:xy(lat,top),pointStyle:'rect',pointRadius:3.1,pointBorderWidth:0,pointBackgroundColor:cs,showLine:false}]);
}
function topPanel(L,R,T,B,g){
  const sets=[[g.blackLat,g.blackTop,0,2],[g.redLat,g.redTop,1,1],[g.lat,g.top,2,3],[g.tealLat,g.tealTop,3,0]];
  panel(L,R,T,B,34,sets.map(([la,to,c,o])=>({label:seriesNames[c],data:xy(la,to),order:o,pointStyle:'circle',pointRadius:3.4,pointBorderWidth:0,pointBackgroundColor:seriesColors[c],showLine:false})));
}
function bar(x,yTop,yBot,colors,weights){
  const total=weights.reduce((a,b)=>a+b,0);let y=yTop;
  colors.forEach((c,i)=>{const h=(yBot-yTop)*weights[i]/total;const d=document.createElement('div');
    d.style.cssText=`position:absolute;left:${x}px;top:${y}px;width:23px;height:${h+0.5}px;background:${c}`;page.appendChild(d);y+=h;});
}
const bandWeights=[23,27,25,25,50,27,25,26];
function scale(x,yTop,yBot,labels,ys,unit,unitX,unitY){
  bar(x,yTop,yBot,rainbow.slice(0,8),bandWeights);
  labels.forEach((t,i)=>text(t,x+25,ys[i],{size:13}));
  if(unit)text(unit,unitX,unitY,{size:16});
}
function figure(g,L,R,tops,bots,legendX,legendTextX,legendYs,tagY,tag,phaseBar,bars,titles,bigCy,latCx,latCy){
  topPanel(L,R,tops[0],bots[0],g);
  classPanel(L,R,tops[1],bots[1],g.lat,g.top,g.phase,phaseColors);
  classPanel(L,R,tops[2],bots[2],g.lat,g.top,g.temp,rainbow);
  classPanel(L,R,tops[3],bots[3],g.lat,g.top,g.radius,rainbow);
  classPanel(L,R,tops[4],bots[4],g.lat,g.top,g.thick,rainbow);
  seriesNames.forEach((n,i)=>{
    const m=document.createElement('div');
    m.style.cssText=`position:absolute;left:${legendX-3}px;top:${legendYs[i]-3}px;width:6px;height:6px;border-radius:50%;background:${seriesColors[i]}`;
    page.appendChild(m);text(n,legendTextX,legendYs[i],{size:20});
  });
  panelTitles.forEach((n,i)=>text(n,titles[i][0],titles[i][1],{size:18.6}));
  bar(phaseBar.x,phaseBar.y0,phaseBar.y1,phaseColors,[1,1,1,1]);
  phaseNames.forEach((n,i)=>text(n,phaseBar.x+25,phaseBar.ys[i],{size:12}));
  scale(bars[0].x,bars[0].y0,bars[0].y1,tempLabels,bars[0].ys,'°C',bars[0].ux,bars[0].uy);
  scale(bars[1].x,bars[1].y0,bars[1].y1,radiusLabels,bars[1].ys,'µm',bars[1].ux,bars[1].uy);
  scale(bars[2].x,bars[2].y0,bars[2].y1,thickLabels,bars[2].ys);
  text(tag,tag==='(a)'?12:13,tagY,{size:21,family:'"Open Sans","Noto Sans",sans-serif'});
  fitted('Cloud Top Height(km)',41,bigCy,39,406,-90);
  fitted('Latitude(°)',latCx,latCy,38,189,0);
}
figure({lat:aLat,top:aTop,phase:aPhase,temp:aTemp,radius:aRadius,thick:aThick,blackLat:aBlackLat,blackTop:aBlackTop,redLat:aRedLat,redTop:aRedTop,tealLat:aTealLat,tealTop:aTealTop},
  88,934,[19.5,210,348.5,485.7,623.3],[185.5,321.7,460,596.7,734.7],107.7,135.7,[31,56,81,107],20,'(a)',
  {x:940,y0:245,y1:279,ys:[247,256.5,266,277]},
  [{x:941,y0:368,y1:444,ys:[375.3,394,410,429,445],ux:964,uy:358},
   {x:940,y0:501,y1:577,ys:[509,526,544,562,578],ux:963,uy:490},
   {x:939,y0:638.3,y1:713,ys:[645.7,664,682,699,714]}],
  [[94.3,225.7],[92.6,362],[92,500],[90,635.7]],377,515.5,780);
figure({lat:bLat,top:bTop,phase:bPhase,temp:bTemp,radius:bRadius,thick:bThick,blackLat:bBlackLat,blackTop:bBlackTop,redLat:bRedLat,redTop:bRedTop,tealLat:bTealLat,tealTop:bTealTop},
  89,935,[824.3,1014.7,1153.3,1292,1430],[990.3,1126,1265,1404,1542],110,137,[834,860,885,910],828,'(b)',
  {x:942.7,y0:1050,y1:1083,ys:[1052,1061.7,1071.7,1082]},
  [{x:944.5,y0:1171.7,y1:1247.7,ys:[1179,1197,1214,1233,1249],ux:968,uy:1162},
   {x:944.5,y0:1309,y1:1385,ys:[1316.7,1333,1351,1369,1385.7],ux:967,uy:1297.7},
   {x:944.5,y0:1447.7,y1:1522.7,ys:[1454,1473,1491,1508,1523]}],
  [[95,1030],[94.6,1166.7],[94,1306],[93.3,1441.7]],1217,517.5,1588);
</script></body></html>
